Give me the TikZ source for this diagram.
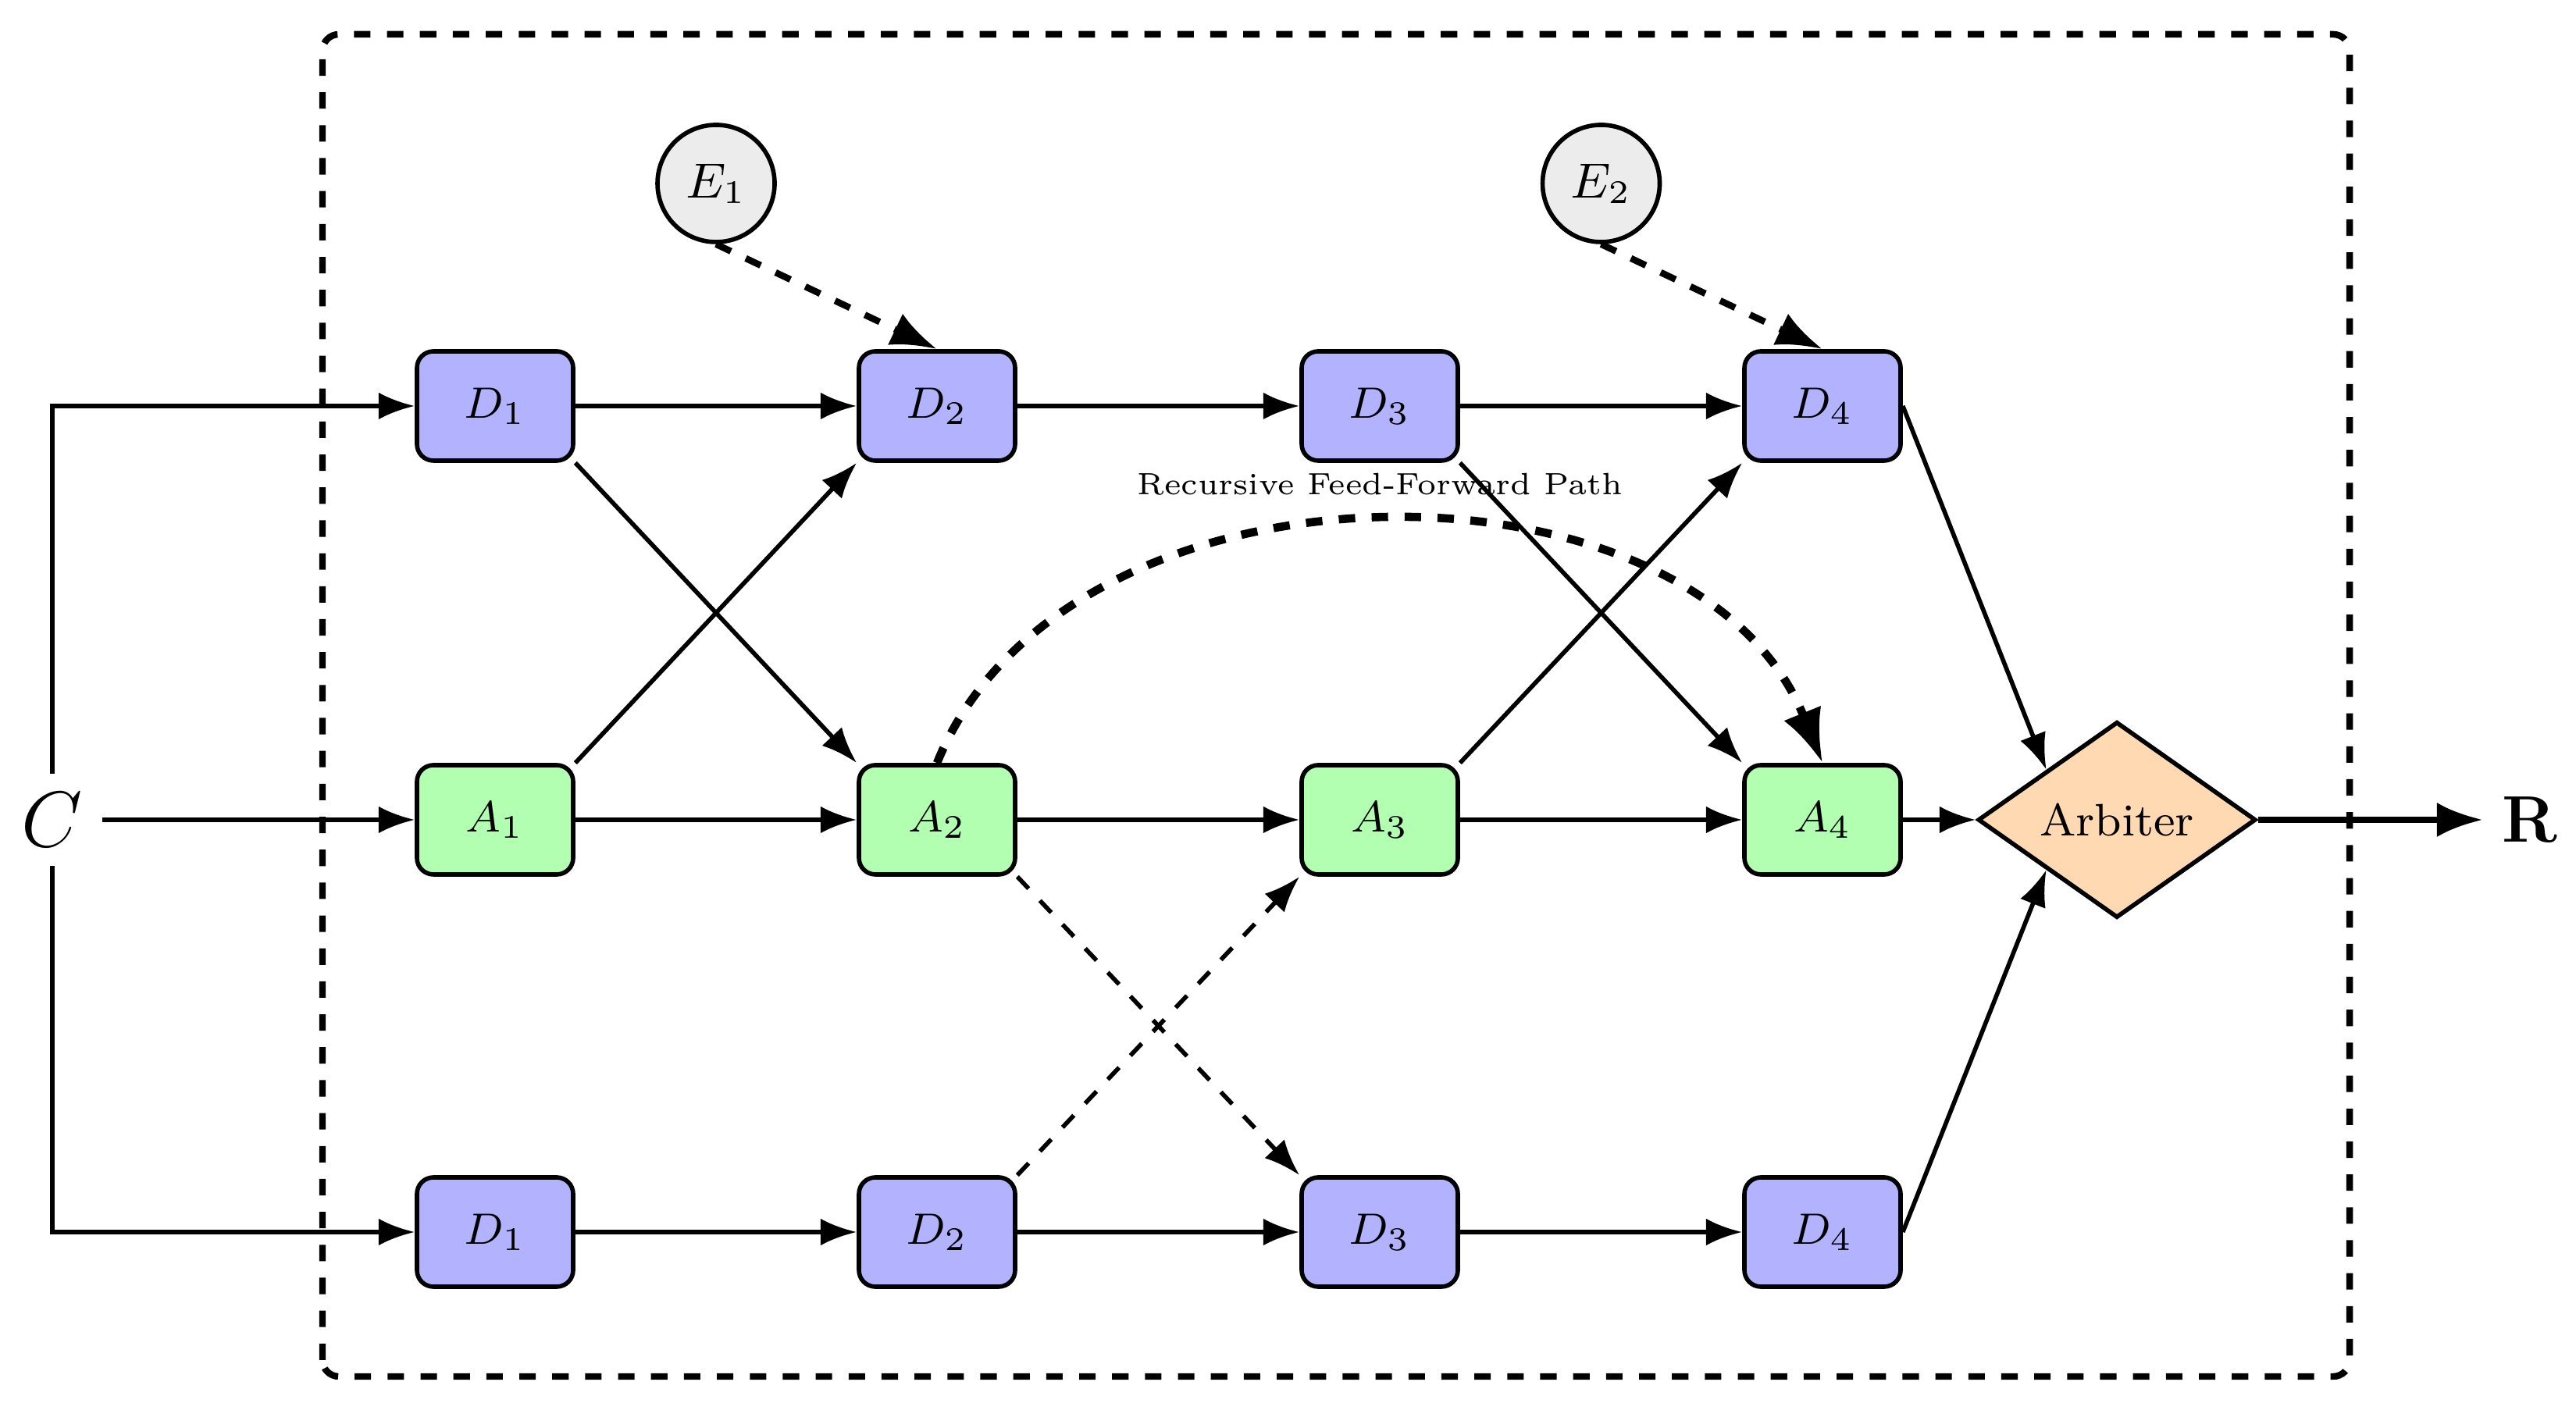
\documentclass[tikz,border=0pt]{standalone}
\usetikzlibrary{arrows.meta,shapes.geometric}
\begin{document}
\begin{tikzpicture}[
  >={Latex},
  nodefont/.style={font=\fontsize{8.3}{10}\selectfont},
  dbox/.style={draw, thick, rounded corners=3pt, fill=blue!30, minimum width=1cm, minimum height=0.7cm, inner sep=1pt, nodefont},
  abox/.style={dbox, fill=green!30},
  ebox/.style={draw, thick, circle, fill=gray!15, minimum size=0.75cm, inner sep=0pt, font=\fontsize{8.8}{10}\selectfont},
  arb/.style={draw, thick, diamond, fill=orange!30, minimum width=1.78cm, minimum height=1.255cm, inner sep=0pt, nodefont},
  conn/.style={->, thick},
  dconn/.style={->, thick, dashed},
  econn/.style={->, very thick, dashed},
  fconn/.style={->, line width=1.5pt, dashed},
  frame/.style={very thick, dashed, rounded corners=3pt}
]
\useasboundingbox (0,0) rectangle (16.495,9.1);

% frame
\draw[frame] (2.065,0.285) rectangle (15.045,8.88);

% input
\node (C) at (0.335,3.85) {\fontsize{14}{16}\selectfont $C$};

% top row
\node[dbox] (D1t) at (3.17,6.5) {$D_1$};
\node[dbox] (D2t) at (6.0,6.5) {$D_2$};
\node[dbox] (D3t) at (8.835,6.5) {$D_3$};
\node[dbox] (D4t) at (11.67,6.5) {$D_4$};

% middle row
\node[abox] (A1) at (3.17,3.85) {$A_1$};
\node[abox] (A2) at (6.0,3.85) {$A_2$};
\node[abox] (A3) at (8.835,3.85) {$A_3$};
\node[abox] (A4) at (11.67,3.85) {$A_4$};

% bottom row
\node[dbox] (D1b) at (3.17,1.21) {$D_1$};
\node[dbox] (D2b) at (6.0,1.21) {$D_2$};
\node[dbox] (D3b) at (8.835,1.21) {$D_3$};
\node[dbox] (D4b) at (11.67,1.21) {$D_4$};

% external nodes
\node[ebox] (E1) at (4.585,7.925) {$E_1$};
\node[ebox] (E2) at (10.2525,7.925) {$E_2$};

% arbiter and result
\node[arb] (Arb) at (13.555,3.85) {Arbiter};
\node (R) at (16.2,3.85) {\fontsize{13}{15}\selectfont $\mathbf{R}$};

% label
\node[font=\fontsize{5.6}{7}\selectfont] (lbl) at (8.835,6.0) {Recursive Feed-Forward Path};

% input connections
\draw[conn] (C.north) |- (D1t.west);
\draw[conn] (C.east) -- (A1.west);
\draw[conn] (C.south) |- (D1b.west);

% rows
\draw[conn] (D1t) -- (D2t);
\draw[conn] (D2t) -- (D3t);
\draw[conn] (D3t) -- (D4t);
\draw[conn] (A1) -- (A2);
\draw[conn] (A2) -- (A3);
\draw[conn] (A3) -- (A4);
\draw[conn] (D1b) -- (D2b);
\draw[conn] (D2b) -- (D3b);
\draw[conn] (D3b) -- (D4b);

% crossings
\draw[conn] (D1t.south east) -- (A2.north west);
\draw[conn] (A1.north east) -- (D2t.south west);
\draw[conn] (D3t.south east) -- (A4.north west);
\draw[conn] (A3.north east) -- (D4t.south west);
\draw[dconn] (A2.south east) -- (D3b.north west);
\draw[dconn] (D2b.north east) -- (A3.south west);

% external inputs
\draw[econn] (E1.south) -- (D2t.north);
\draw[econn] (E2.south) -- (D4t.north);

% feed-forward curve
\draw[fconn] (A2.north) to[out=68,in=112] (A4.north);

% to arbiter
\draw[conn] (D4t.east) -- (Arb.north west);
\draw[conn] (A4.east) -- (Arb.west);
\draw[conn] (D4b.east) -- (Arb.south west);
\draw[->, very thick] (Arb.east) -- (R.west);
\end{tikzpicture}
\end{document}
